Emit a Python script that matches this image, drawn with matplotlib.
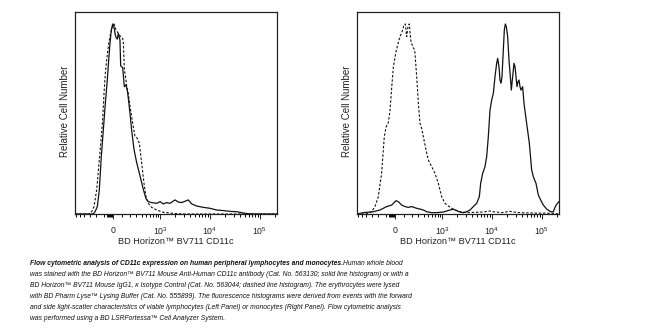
import numpy as np
import matplotlib
matplotlib.use("Agg")
import matplotlib.pyplot as plt

plt.rcParams['font.family'] = ['Liberation Sans', 'DejaVu Sans']
plt.rcParams['mathtext.fontset'] = 'custom'
plt.rcParams['mathtext.rm'] = 'Liberation Sans'
plt.rcParams['mathtext.it'] = 'Liberation Sans:italic'

# ---------------- data (fluorescence intensity, relative count) ----------------
left_solid_x = [-640, -240, -213, -181, -155, -130, -106, -83, -61, -46, -32, -18, -3.5, 10, 21, 32,
                46, 57, 75, 83, 106, 126, 146, 163, 176, 199, 223, 259, 304, 367, 436, 501, 563,
                663, 844, 990, 1157, 1352, 1580, 1995, 2325, 2714, 3691, 4306, 5421, 7370, 10000,
                13630, 18500, 25200, 34200, 43100, 54300, 73800, 220000]
left_solid_y = [0, 0, 1.2, 3.9, 12.6, 30.2, 44.2, 58.2, 70.5, 81, 89.8, 96.8, 100, 98.6, 95, 93,
                92, 95, 91.6, 78, 77, 67, 68, 65, 61, 53, 44, 34, 27, 20, 13, 8, 6.5,
                6, 5.6, 6.5, 5.3, 6, 5.6, 7.4, 6.3, 6, 7.4, 5.3, 4.2, 3.5, 3,
                2.1, 1.8, 1.4, 1.2, 0.7, 0.2, 0, 0]

left_dash_x = [-640, -300, -264, -228, -190, -155, -130, -114, -98, -83, -68, -46, -25, -3.5, 10.6,
               32, 57, 83, 106, 114, 126, 146, 155, 176, 199, 239, 275, 315, 353, 400, 452, 501,
               563, 663, 844, 1157, 1845, 3000, 220000]
left_dash_y = [0, 0, 1.2, 3.9, 12.6, 28.4, 40.7, 49.5, 63.5, 74, 81, 89.8, 95.1, 98.6, 100,
               96.8, 95.1, 93.3, 92.4, 89.8, 75.8, 70.5, 67, 63.5, 56.5, 47.7, 40.7, 39.8, 37.2,
               26.7, 16.1, 9.1, 5.6, 3.5, 2.1, 0.9, 0.35, 0, 0]

right_solid_x = [-640, -468, -270, -172, -90.5, -35, 10.6, 35, 72, 110, 150, 195, 270, 327, 393,
                 468, 601, 767, 1053, 1439, 1681, 1962, 2290, 2673, 3117, 3637, 4241, 4947, 5594,
                 5943, 6518, 7261, 7843, 8464, 9143, 9874, 10660, 11510, 12430, 13020, 13830,
                 14490, 15175, 15890, 16890, 17690, 18520, 19400, 20630, 21940, 23340, 24420,
                 25980, 27620, 28910, 30280, 31710, 33200, 34770, 36400, 38120, 41160, 43770,
                 49500, 55980, 62300, 67300, 76100, 84700, 94300, 106600, 124300, 149500,
                 169000, 185200, 203100, 219400]
right_solid_y = [0, 0.7, 1.2, 2.1, 3.9, 4.7, 7.0, 6.5, 4.7, 3.9, 3.5, 3.9, 3.0, 2.6, 2.1,
                 1.2, 0.7, 0.7, 1.05, 2.1, 2.5, 1.75, 1.05, 0.7, 1.2, 2.1, 3.9, 5.6, 9.1,
                 16.1, 21.4, 24.9, 30.2, 40.7, 54.7, 60, 63.5, 72.3, 79.3, 81.9, 77.5,
                 70.5, 68.8, 72.3, 86.3, 96.8, 100, 98.6, 93.3, 81, 72.3, 65.2,
                 72.3, 79.3, 77.5, 72.3, 67, 69.6, 70.5, 67, 65.2, 67, 58.2,
                 47.7, 37.2, 23.2, 19.6, 16.1, 10, 7.4, 4.7, 2.6, 1.2,
                 1.2, 3.9, 5.6, 6.5]

right_dash_x = [-640, -400, -298, -244, -195, -150, -130, -118, -98, -72, -53, -35, -17.7, 10.6,
                35, 53, 83, 98, 114, 130, 146, 163, 181, 209, 239, 270, 298, 327, 359, 393, 452,
                509, 601, 708, 831, 973, 1139, 1332, 1681, 2290, 3117, 4947, 6725, 9143, 10660,
                15640, 22980, 26800, 36400, 67300, 169000, 220000]
right_dash_y = [0, 0, 1.2, 3.9, 9.1, 21.8, 33.7, 40.7, 45.6, 48.2, 54.7, 66.6, 77.2, 85.4,
                90.3, 93.3, 96.8, 99.5, 100, 93.3, 98.6, 100, 91.6, 88.0, 86.3, 72.3, 58.2, 47.7,
                45.1, 40.7, 33.7, 28.4, 24.9, 21.4, 16.1, 9.1, 5.6, 4.2, 2.5, 1.2, 0.7, 0.9,
                1.05, 1.6, 1.2, 0.7, 1.4, 1.05, 0.7, 0.5, 0.35, 0]

major_ticks = [0, 1e3, 1e4, 1e5]
major_labels = ["0", "$10^3$", "$10^4$", "$10^5$"]
minor_ticks = ([-600, -500, -400, -300, -200, -100, -60, -50, -40, -30, -20, -10]
               + [100 * k for k in range(1, 10)]
               + [1000 * k for k in range(2, 10)]
               + [10000 * k for k in range(2, 10)]
               + [200000])

x_label = "BD Horizon\u2122 BV711 CD11c"
y_label = "Relative Cell Number"

caption_bold = "Flow cytometric analysis of CD11c expression on human peripheral lymphocytes and monocytes."
caption_lines = [
    "Human whole blood",
    "was stained with the BD Horizon\u2122 BV711 Mouse Anti-Human CD11c antibody (Cat. No. 563130; solid line histogram) or with a",
    "BD Horizon\u2122 BV711 Mouse IgG1, \u03ba Isotype Control (Cat. No. 563044; dashed line histogram). The erythrocytes were lysed",
    "with BD Pharm Lyse\u2122 Lysing Buffer (Cat. No. 555899). The fluorescence histograms were derived from events with the forward",
    "and side light-scatter characteristics of viable lymphocytes (Left Panel) or monocytes (Right Panel). Flow cytometric analysis",
    "was performed using a BD LSRFortessa\u2122 Cell Analyzer System.",
]

# ---------------- scale ----------------
C = 115.0
def fwd(x):
    x = np.asarray(x, dtype=float)
    return np.arcsinh(x / (2 * C)) / np.log(10) + np.log10(C)
def inv(u):
    u = np.asarray(u, dtype=float)
    return 2 * C * np.sinh((u - np.log10(C)) * np.log(10))

W, H = 651, 335
fig = plt.figure(figsize=(W / 100, H / 100), dpi=100)

def make_axes(left_px, sx, sy, dx, dy):
    ax = fig.add_axes([left_px / W, (H - 214) / H, 202 / W, 202 / H])
    ax.set_xscale('function', functions=(fwd, inv))
    ax.plot(sx, sy, color='#111111', lw=0.9, solid_joinstyle='round')
    ax.plot(dx, dy, color='#111111', lw=0.8, linestyle=(0, (2.2, 1.6)))
    ax.set_xlim(-642, 219500)
    ax.set_ylim(0, 106.3)
    ax.set_xticks(major_ticks)
    ax.set_xticklabels(major_labels)
    ax.set_xticks(minor_ticks, minor=True)
    ax.tick_params(axis='x', which='major', direction='out', length=3.6, width=0.7,
                   labelsize=6.3, pad=4.8, colors='#222222')
    ax.tick_params(axis='x', which='minor', direction='out', length=2.2, width=0.7)
    ax.set_yticks([])
    for s in ax.spines.values():
        s.set_linewidth(0.9)
        s.set_color('#222222')
    ax.set_xlabel(x_label, fontsize=6.6, labelpad=-0.5, color='#222222')
    ax.set_ylabel(y_label, fontsize=7.0, labelpad=3, color='#222222')
    ax.yaxis.set_label_coords(-0.024, 0.51)
    ax.yaxis.label.set_va('bottom')
    return ax

make_axes(75, left_solid_x, left_solid_y, left_dash_x, left_dash_y)
make_axes(357, right_solid_x, right_solid_y, right_dash_x, right_dash_y)

# ---------------- caption ----------------
fs = 4.85
x0 = 30 / W
y_first = 263.7
spacing = 10.9
r = fig.canvas.get_renderer()
t0 = fig.text(x0, 1 - y_first / H, caption_bold, fontsize=fs, fontweight='bold',
              fontstyle='italic', va='center', ha='left', color='#111111')
bb = t0.get_window_extent(renderer=r)
fig.text(bb.x1 / W + 0.0005, 1 - y_first / H, caption_lines[0], fontsize=fs,
         fontstyle='italic', va='center', ha='left', color='#111111')
for i, line in enumerate(caption_lines[1:], start=1):
    fig.text(x0, 1 - (y_first + i * spacing) / H, line, fontsize=fs,
             fontstyle='italic', va='center', ha='left', color='#111111')

fig.savefig("out.png", dpi=100, facecolor='white')
